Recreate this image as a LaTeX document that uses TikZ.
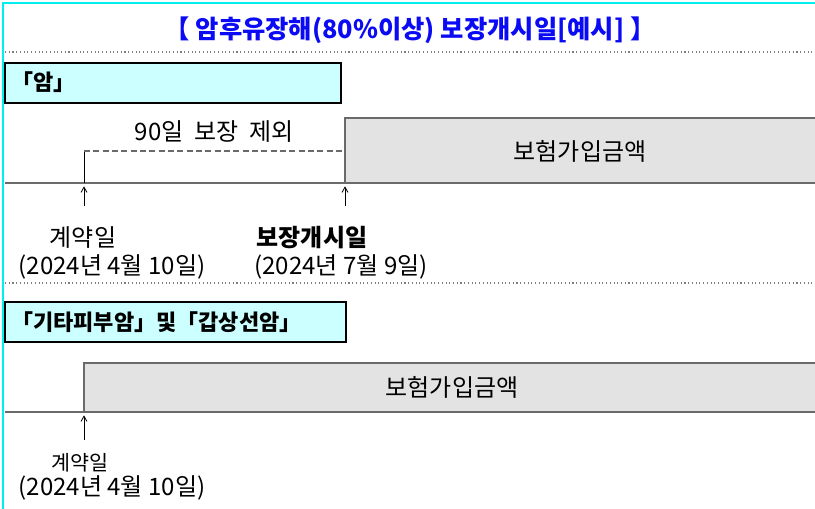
\documentclass[tikz,border=0pt]{standalone}
\usepackage{fontspec}
\setmainfont{Noto Sans CJK KR}
\usepackage{xcolor}
\usepackage{tikz}
\usetikzlibrary{arrows.meta,positioning}

\definecolor{framecyan}{HTML}{00F0F0}
\definecolor{tagcyan}{HTML}{CCFFFF}
\definecolor{titleblue}{HTML}{0A0AF5}
\definecolor{amountgray}{HTML}{E3E3E3}
\definecolor{linegray}{HTML}{6A6A6A}

\begin{document}
\begin{tikzpicture}[x=0.75pt, y=-0.75pt, node distance=4pt,
    title/.style={font=\fontsize{19}{22}\selectfont\bfseries, text=titleblue, inner sep=0pt},
    tagbox/.style={draw, line width=1.6pt, fill=tagcyan, anchor=north west, minimum height=30pt},
    tagtext/.style={font=\fontsize{16.5}{19}\selectfont\bfseries, anchor=west, inner sep=0pt},
    amount/.style={draw=linegray, line width=0.9pt, fill=amountgray},
    timeline/.style={draw=linegray, line width=1.1pt},
    sep/.style={draw=gray, line width=0.8pt, dotted},
    datetext/.style={font=\fontsize{18}{21}\selectfont, inner sep=0pt},
    smalltext/.style={font=\fontsize{15.5}{18}\selectfont, inner sep=0pt},
    arrow/.style={-{Straight Barb[length=4pt, width=4.5pt]}, line width=0.6pt}]

    \useasboundingbox (0,0) rectangle (815,509);

    % frame and title
    \draw[framecyan, line width=2.2pt] (3,509) -- (3,3) -- (815,3);
    \node[title] (head) at (410,30) {【\ 암후유장해(80\%이상)\ 보장개시일[예시]\ 】};
    \draw[sep] (5,52) -- (815,52);

    % first case
    \node[tagbox, minimum width=252pt] (tagone) at (4,62) {};
    \node[tagtext] (tagonetxt) at (11,82) {「암」};

    \filldraw[amount] (817,118) -- (345,118) -- (345,183) -- (817,183);
    \node[datetext] (sumone) at (580,151) {보험가입금액};
    \draw[timeline] (5,183) -- (815,183);

    \coordinate (contract) at (84,183);
    \coordinate (start) at (345,183);
    \draw[line width=0.7pt] (contract) -- (84,151);
    \draw[line width=0.8pt, dash pattern=on 4.5pt off 2.5pt, linegray] (84,151) -- (345,151);
    \node[datetext] (wait) at (214,132) {90일\ \ 보장\ \ 제외};

    \coordinate (contracttail) at (84,206);
    \coordinate (starttail) at (345,206);
    \draw[arrow] (contracttail) -- ([yshift=-2.5pt]contract);
    \draw[arrow] (starttail) -- ([yshift=-2.5pt]start);

    \node[datetext] (signed) at (83,238) {계약일};
    \node[datetext] (signeddate) at (112,267) {(2024년 4월 10일)};
    \node[datetext, font=\fontsize{18}{21}\selectfont\bfseries] (begin) at (312,238) {보장개시일};
    \node[datetext] (begindate) at (341,267) {(2024년 7월 9일)};

    \draw[sep] (5,283) -- (815,283);

    % second case
    \node[tagbox, minimum width=256pt] (tagtwo) at (4,301) {};
    \node[tagtext] (tagtwotxt) at (11,322) {「기타피부암」및「갑상선암」};

    \filldraw[amount] (817,363) -- (84,363) -- (84,412) -- (817,412);
    \node[datetext] (sumtwo) at (452,387) {보험가입금액};
    \draw[timeline] (5,412) -- (815,412);

    \coordinate (contracttwo) at (84,412);
    \coordinate (contracttwotail) at (84,440);
    \draw[arrow] (contracttwotail) -- ([yshift=-2.5pt]contracttwo);

    \node[smalltext] (signedtwo) at (80,463) {계약일};
    \node[datetext] (signedtwodate) at (112,488) {(2024년 4월 10일)};
\end{tikzpicture}
\end{document}
